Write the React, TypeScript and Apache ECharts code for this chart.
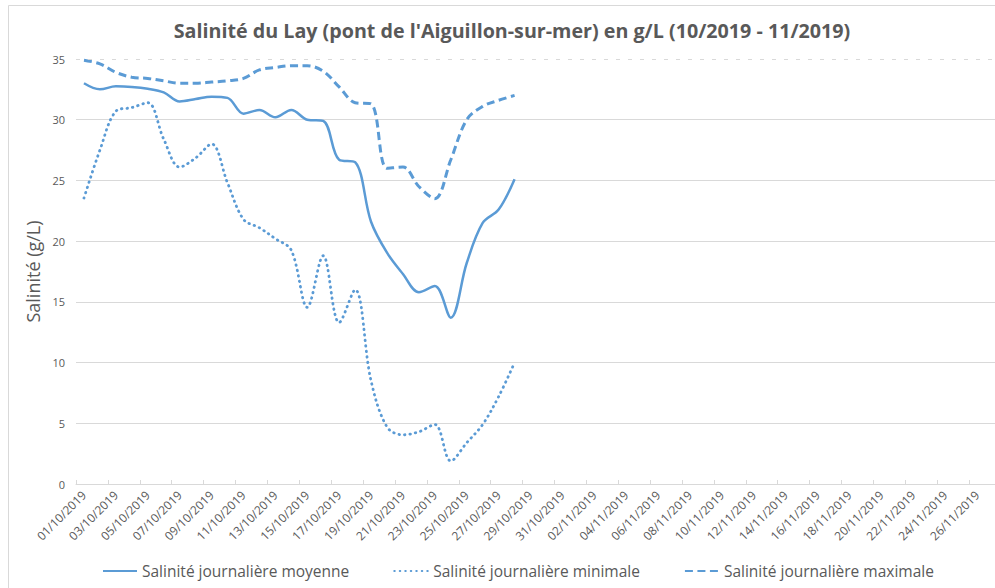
import React, { useEffect, useRef } from "react";
import * as echarts from "echarts";

const TITLE = "Salinité du Lay (pont de l'Aiguillon-sur-mer) en g/L (10/2019 - 11/2019)";
const Y_NAME = "Salinité (g/L)";
const SERIES_NAMES = [
  "Salinité journalière moyenne",
  "Salinité journalière minimale",
  "Salinité journalière maximale",
];

// Day categories: 01/10/2019 .. 27/11/2019 (axis is cut at the right edge)
const MONTHS = [
  { m: "10", days: 31 },
  { m: "11", days: 27 },
];
const categories: string[] = [];
MONTHS.forEach(({ m, days }) => {
  for (let d = 1; d <= days; d++) {
    categories.push(`${String(d).padStart(2, "0")}/${m}/2019`);
  }
});

// Values from 01/10/2019 to 28/10/2019
const moyenne = [
  33.0, 32.5, 32.75, 32.7, 32.55, 32.25, 31.5, 31.7, 31.9, 31.8,
  30.5, 30.8, 30.2, 30.8, 30.0, 29.9, 26.7, 26.5, 21.6, 19.05,
  17.3, 15.8, 16.3, 13.7, 18.2, 21.5, 22.6, 25.1,
];
const minimale = [
  23.55, 27.5, 30.7, 31.0, 31.4, 28.4, 26.1, 26.85, 28.0, 24.8,
  21.8, 21.1, 20.2, 19.25, 14.55, 18.8, 13.3, 16.0, 8.5, 4.7,
  4.05, 4.3, 4.9, 1.9, 3.4, 4.9, 7.2, 10.0,
];
const maximale = [
  34.9, 34.6, 33.9, 33.5, 33.4, 33.2, 33.0, 33.0, 33.1, 33.2,
  33.4, 34.1, 34.3, 34.45, 34.45, 34.0, 32.7, 31.4, 31.3, 26.0,
  26.1, 24.5, 23.5, 26.7, 30.0, 31.1, 31.6, 32.0,
];

const Y_MIN = 0;
const Y_MAX = 35;
const Y_STEP = 5;

const BLUE = "#5b9bd5";
const TEXT = "#595959";
const GRID = "#d9d9d9";
const FONT = '"Open Sans", "Noto Sans", sans-serif';

export default function App() {
  const ref = useRef<HTMLDivElement>(null);

  useEffect(() => {
    if (!ref.current) return;
    const chart = echarts.init(ref.current, null, { renderer: "svg" });
    const gridColors = [GRID, GRID, GRID, GRID, GRID, GRID, GRID, "rgba(0,0,0,0)"];
    chart.setOption({
      animation: false,
      backgroundColor: "#ffffff",
      textStyle: { fontFamily: FONT },
      graphic: [
        {
          type: "rect",
          shape: { x: 8.5, y: 5.5, width: 1300, height: 800 },
          style: { fill: "none", stroke: GRID, lineWidth: 1 },
          silent: true,
          z: -10,
        },
        {
          type: "text",
          x: 512,
          y: 30,
          style: {
            text: TITLE,
            fill: TEXT,
            fontSize: 19.7,
            fontWeight: "bold",
            fontFamily: FONT,
            align: "center",
            verticalAlign: "middle",
          },
        },
      ],
      grid: { left: 76, top: 59, bottom: 104, right: 0, containLabel: false },
      legend: {
        left: 97,
        top: 558,
        itemWidth: 34,
        itemHeight: 14,
        itemGap: 44,
        itemStyle: { opacity: 0 },
        textStyle: { color: TEXT, fontSize: 15.5, fontFamily: FONT },
        data: SERIES_NAMES,
      },
      xAxis: {
        type: "category",
        data: categories,
        boundaryGap: true,
        axisLine: { lineStyle: { color: GRID, width: 1 } },
        axisTick: { show: true, interval: 1, inside: true, length: 4, lineStyle: { color: GRID } },
        axisLabel: {
          interval: 1,
          rotate: 45,
          color: TEXT,
          fontSize: 12,
          fontFamily: FONT,
          margin: 9,
        },
        splitLine: { show: false },
      },
      yAxis: {
        type: "value",
        min: Y_MIN,
        max: Y_MAX,
        interval: Y_STEP,
        name: Y_NAME,
        nameLocation: "middle",
        nameGap: 27,
        nameTextStyle: { color: TEXT, fontSize: 18, fontFamily: FONT },
        axisLine: { show: false },
        axisTick: { show: false },
        axisLabel: { color: TEXT, fontSize: 11, fontFamily: FONT, margin: 11 },
        splitLine: { show: true, lineStyle: { color: gridColors, width: 1 } },
      },
      series: [
        {
          name: SERIES_NAMES[0],
          type: "line",
          data: moyenne,
          smooth: 0.35,
          symbol: "none",
          lineStyle: { color: BLUE, width: 2.5, type: "solid" },
          itemStyle: { color: BLUE },
          markLine: {
            silent: true,
            symbol: ["none", "none"],
            label: { show: false },
            lineStyle: { color: GRID, type: [4, 8], width: 1 },
            data: [{ yAxis: Y_MAX }],
          },
        },
        {
          name: SERIES_NAMES[1],
          type: "line",
          data: minimale,
          smooth: 0.35,
          symbol: "none",
          lineStyle: { color: BLUE, width: 2.8, type: [0.5, 5], cap: "round" },
          itemStyle: { color: BLUE },
        },
        {
          name: SERIES_NAMES[2],
          type: "line",
          data: maximale,
          smooth: 0.35,
          symbol: "none",
          lineStyle: { color: BLUE, width: 3, type: [8, 4.5] },
          itemStyle: { color: BLUE },
        },
      ],
    });
    return () => chart.dispose();
  }, []);

  return (
    <div
      style={{
        position: "absolute",
        left: 0,
        top: 0,
        width: 995,
        height: 588,
        overflow: "hidden",
        background: "#fff",
      }}
    >
      <div ref={ref} style={{ width: 1001, height: 588 }} />
    </div>
  );
}
